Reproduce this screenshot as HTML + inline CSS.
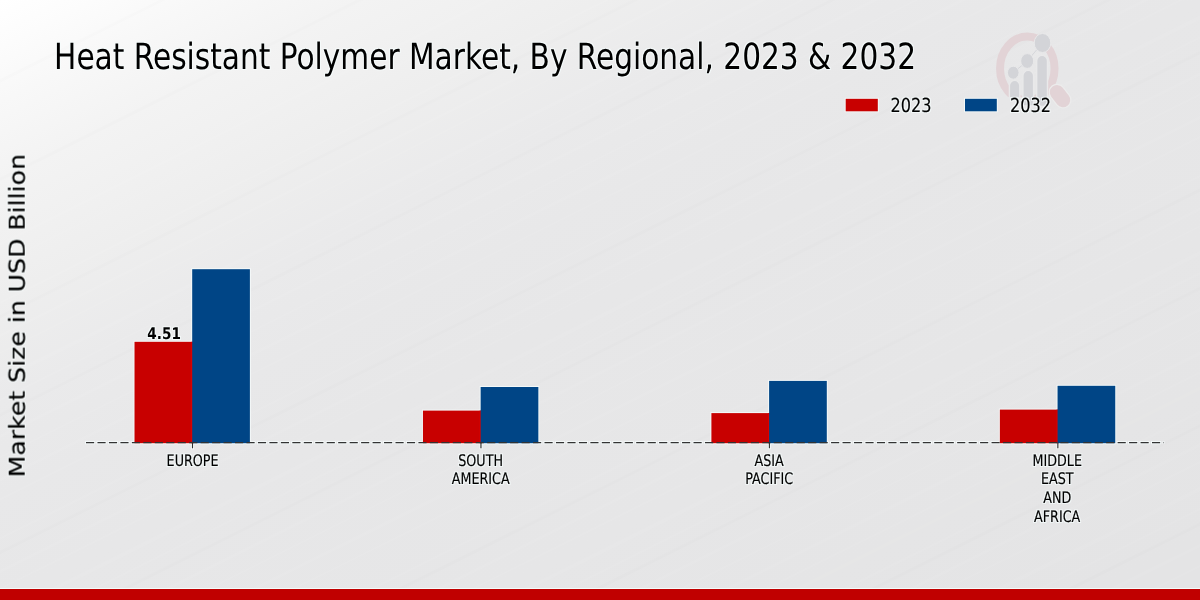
<!DOCTYPE html>
<html lang="en">
<head>
<meta charset="utf-8">
<title>Heat Resistant Polymer Market, By Regional, 2023 &amp; 2032</title>
<style>
html,body{margin:0;padding:0;width:1200px;height:600px;overflow:hidden;background:#e7e7e8;}
svg{display:block;position:absolute;left:0;top:0;}
text{font-family:"DejaVu Sans Condensed","DejaVu Sans","Liberation Sans",sans-serif;font-stretch:condensed;fill:#000;text-rendering:geometricPrecision;}
.t{font-size:36.2px;}
.x{font-size:15.9px;text-anchor:middle;fill:#000;stroke:#000;stroke-width:0.18px;}
.l{font-size:19.3px;stroke:#000;stroke-width:0.15px;}
.y{font-family:"DejaVu Sans","Liberation Sans",sans-serif;font-stretch:normal;font-size:25.16px;text-anchor:middle;stroke:#000;stroke-width:0.2px;}
.v{font-family:"DejaVu Sans","Liberation Sans",sans-serif;font-stretch:normal;font-weight:bold;font-size:16.0px;text-anchor:middle;}
</style>
</head>
<body>
<svg width="1200" height="600" viewBox="0 0 1200 600">
<defs>
<linearGradient id="bg" gradientUnits="userSpaceOnUse" x1="0" y1="0" x2="480" y2="960">
<stop offset="0" stop-color="#ffffff"/>
<stop offset="0.04" stop-color="#fcfcfc"/>
<stop offset="0.085" stop-color="#f8f8f8"/>
<stop offset="0.15" stop-color="#f3f3f3"/>
<stop offset="0.21" stop-color="#f0f0f0"/>
<stop offset="0.25" stop-color="#eeeeee"/>
<stop offset="0.335" stop-color="#eaeaeb"/>
<stop offset="0.415" stop-color="#e8e8e9"/>
<stop offset="0.5" stop-color="#e7e7e8"/>
<stop offset="0.7" stop-color="#e6e6e7"/>
<stop offset="0.95" stop-color="#e4e4e5"/>
</linearGradient>
<pattern id="st" width="40" height="211" patternUnits="userSpaceOnUse" patternTransform="rotate(-26.5)">
<rect x="0" y="6" width="40" height="3" fill="#fff" fill-opacity="0.037"/>
<rect x="0" y="24" width="40" height="2" fill="#fff" fill-opacity="0.032"/>
<rect x="0" y="37" width="40" height="4" fill="#fff" fill-opacity="0.021"/>
<rect x="0" y="59" width="40" height="2" fill="#fff" fill-opacity="0.042"/>
<rect x="0" y="71" width="40" height="3" fill="#000" fill-opacity="0.006"/>
<rect x="0" y="88" width="40" height="3" fill="#fff" fill-opacity="0.032"/>
<rect x="0" y="104" width="40" height="2" fill="#fff" fill-opacity="0.026"/>
<rect x="0" y="127" width="40" height="4" fill="#fff" fill-opacity="0.026"/>
<rect x="0" y="146" width="40" height="2" fill="#fff" fill-opacity="0.037"/>
<rect x="0" y="159" width="40" height="3" fill="#000" fill-opacity="0.006"/>
<rect x="0" y="178" width="40" height="3" fill="#fff" fill-opacity="0.032"/>
<rect x="0" y="197" width="40" height="2" fill="#fff" fill-opacity="0.026"/>
</pattern>
<filter id="halo" filterUnits="userSpaceOnUse" x="0" y="0" width="1200" height="588" color-interpolation-filters="sRGB">
<feMorphology in="SourceAlpha" operator="dilate" radius="1" result="d"/>
<feGaussianBlur in="d" stdDeviation="0.35" result="db"/>
<feFlood flood-color="#f6fdfd" flood-opacity="0.75"/>
<feComposite in2="db" operator="in" result="h"/>
<feMerge><feMergeNode in="h"/><feMergeNode in="SourceGraphic"/></feMerge>
</filter>
</defs>
<rect x="0" y="0" width="1200" height="600" fill="url(#bg)"/>
<rect x="0" y="0" width="1200" height="589" fill="url(#st)"/>
<g id="logo">
<clipPath id="lc"><rect x="990" y="25" width="90" height="72.3"/></clipPath>
<ellipse cx="1027.3" cy="68.5" rx="27.25" ry="31.9" fill="none" stroke="#e2d3d6" stroke-width="8" clip-path="url(#lc)"/>
<line x1="1057" y1="92.3" x2="1063" y2="100" stroke="#ececec" stroke-width="17" stroke-linecap="round"/>
<line x1="1057" y1="92.3" x2="1063" y2="100" stroke="#e2d3d6" stroke-width="14.4" stroke-linecap="round"/>
<path d="M1013.3 72.7 L1027.2 61 L1042.5 43" fill="none" stroke="#d3d4d8" stroke-width="0.9"/>
<g fill="#d3d4d8" stroke="#e9e9ea" stroke-width="1.4">
<path d="M1009.4 98 V85.6 a5.2 5.2 0 0 1 10.4 0 V98 Z"/>
<path d="M1022.9 106 V75.7 a5.35 5.35 0 0 1 10.7 0 V106 Z"/>
<path d="M1036.7 106.5 V60.8 a5.4 5.4 0 0 1 10.8 0 V106.5 Z"/>
</g>
<g fill="#d3d4d8" stroke="#e9e9ea" stroke-width="1">
<ellipse cx="1013.25" cy="72.7" rx="5.8" ry="6.5"/>
<ellipse cx="1027.2" cy="61" rx="6.5" ry="7.4"/>
<ellipse cx="1042.5" cy="43" rx="8.3" ry="9.5"/>
</g>
</g>
<rect x="0" y="588" width="1200" height="1.2" fill="#f4fbfb"/>
<rect x="0" y="589" width="1200" height="11" fill="#c00000"/>
<g filter="url(#halo)">
<text class="t" transform="translate(54.1,69) scale(0.91,1)">Heat Resistant Polymer Market, By Regional, 2023 &amp; 2032</text>
<text class="y" transform="translate(24.65,315.6) rotate(-90) scale(1,0.873)">Market Size in USD Billion</text>
<rect x="845.7" y="98.8" width="32.1" height="12.5" fill="#c80000"/>
<text class="l" transform="translate(890.5,112) scale(0.93,1)">2023</text>
<rect x="965" y="98.8" width="31.8" height="12.5" fill="#004586"/>
<text class="l" transform="translate(1010,112) scale(0.93,1)">2032</text>
<rect x="134.5" y="341.8" width="58.7" height="101.4" fill="#c80000"/><rect x="191.2" y="341.8" width="2" height="101.4" fill="#dc0000"/><rect x="192.2" y="269.2" width="57.7" height="174" fill="#004586"/>
<rect x="422.95" y="410.6" width="58.7" height="32.6" fill="#c80000"/><rect x="479.65" y="410.6" width="2" height="32.6" fill="#dc0000"/><rect x="480.65" y="387" width="57.7" height="56.2" fill="#004586"/>
<rect x="711.4" y="413.1" width="58.7" height="30.1" fill="#c80000"/><rect x="768.1" y="413.1" width="2" height="30.1" fill="#dc0000"/><rect x="769.1" y="380.9" width="57.7" height="62.3" fill="#004586"/>
<rect x="999.85" y="409.6" width="58.7" height="33.6" fill="#c80000"/><rect x="1056.55" y="409.6" width="2" height="33.6" fill="#dc0000"/><rect x="1057.55" y="385.8" width="57.7" height="57.4" fill="#004586"/>
<line x1="86" y1="442.6" x2="1163.9" y2="442.6" stroke="#333" stroke-width="1.15" stroke-dasharray="8.16 3.3024"/>
<g stroke="#2e2e2e" stroke-width="1.1"><line x1="192.5" y1="442.6" x2="192.5" y2="448.3"/><line x1="480.95" y1="442.6" x2="480.95" y2="448.3"/><line x1="769.4" y1="442.6" x2="769.4" y2="448.3"/><line x1="1057.85" y1="442.6" x2="1057.85" y2="448.3"/></g>
<text class="v" transform="translate(164.1,338.9) scale(0.85,1)">4.51</text>
<text class="x" transform="translate(192.55,465.6) scale(0.89,1)">EUROPE</text>
<text class="x" transform="translate(480.65,465.6) scale(0.89,1)">SOUTH</text><text class="x" transform="translate(480.65,484.2) scale(0.89,1)">AMERICA</text>
<text class="x" transform="translate(769.2,465.6) scale(0.89,1)">ASIA</text><text class="x" transform="translate(769.2,484.2) scale(0.89,1)">PACIFIC</text>
<text class="x" transform="translate(1057.2,465.6) scale(0.89,1)">MIDDLE</text><text class="x" transform="translate(1057.2,484.2) scale(0.89,1)">EAST</text><text class="x" transform="translate(1057.2,503) scale(0.89,1)">AND</text><text class="x" transform="translate(1057.2,521.9) scale(0.89,1)">AFRICA</text>
</g>
</svg>
</body>
</html>
